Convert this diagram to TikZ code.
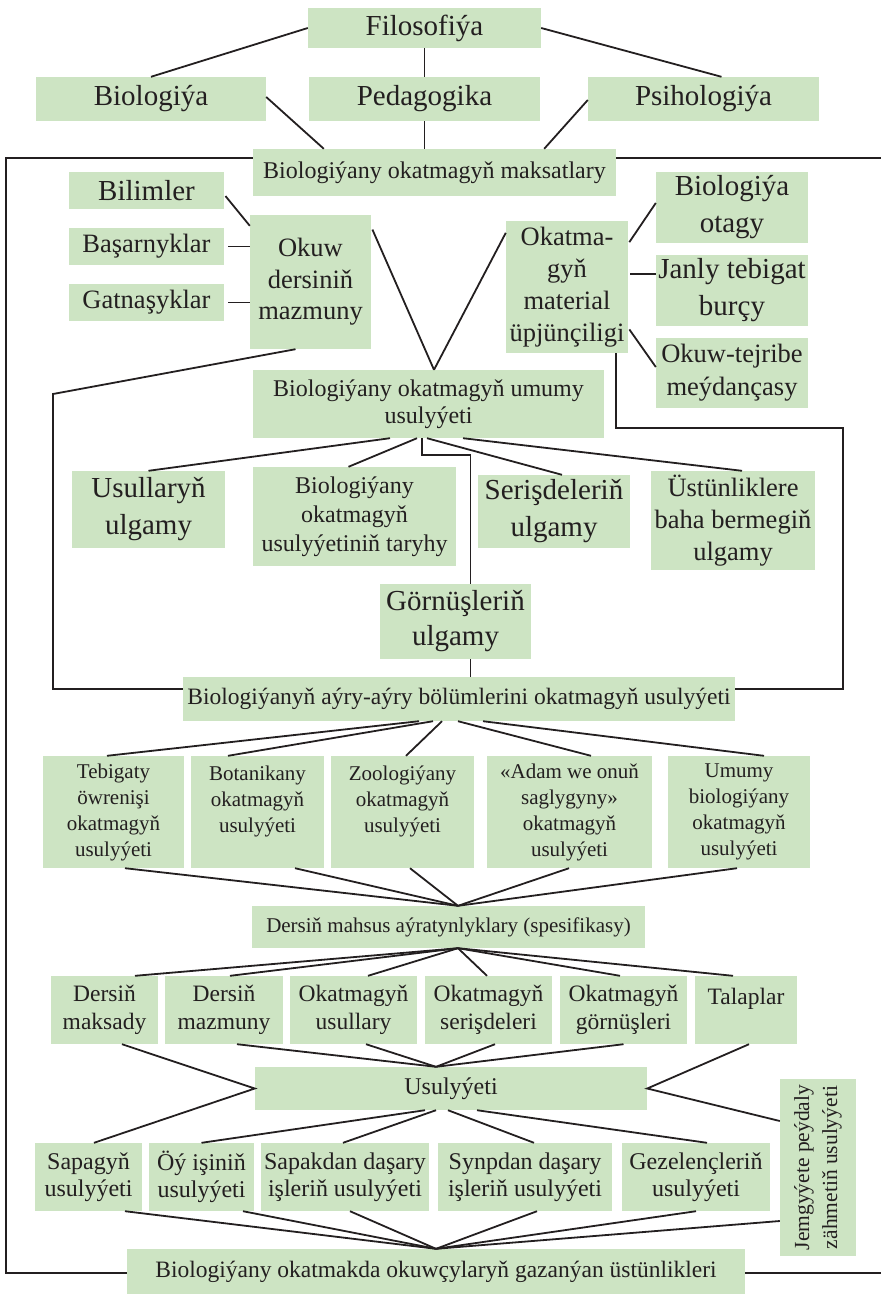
\documentclass[tikz,border=0pt]{standalone}
\usepackage{fontspec}
\setmainfont{Liberation Serif}
\definecolor{boxg}{RGB}{205,228,195}
\definecolor{txt}{RGB}{35,31,32}
\definecolor{ln}{RGB}{35,31,32}
\tikzset{
 bx/.style={fill=boxg, inner sep=0pt, align=center, text=txt},
 cn/.style={draw=ln, line width=1.8pt},
 fr/.style={draw=ln, line width=1.9pt},
 fA/.style={font=\fontsize{29}{37}\selectfont},
 fB/.style={font=\fontsize{26.5}{32}\selectfont},
 fC/.style={font=\fontsize{24}{28}\selectfont},
 fD/.style={font=\fontsize{21}{26}\selectfont},
 fE/.style={font=\fontsize{23.5}{28}\selectfont},
}
\begin{document}
\begin{tikzpicture}[x=1pt,y=-1pt]
\useasboundingbox (0,0) rectangle (881,1295);
% top
\node[bx,fA,minimum width=233,minimum height=40] (filo) at (424.5,28) {Filosofiýa};
\node[bx,fA,minimum width=230,minimum height=44] (bio) at (151,99) {Biologiýa};
\node[bx,fA,minimum width=231,minimum height=44] (ped) at (424.5,99) {Pedagogika};
\node[bx,fA,minimum width=231,minimum height=44] (psi) at (703.5,99) {Psihologiýa};
\node[bx,fC,minimum width=363,minimum height=47] (maks) at (434.5,172.5) {Biologiýany okatmagyň maksatlary};
% second block
\node[bx,fA,minimum width=155,minimum height=37] (bilim) at (146.5,190.5) {Bilimler};
\node[bx,fB,minimum width=155,minimum height=37] (basar) at (146.5,246.5) {Başarnyklar};
\node[bx,fB,minimum width=155,minimum height=37] (gatn) at (146.5,302.5) {Gatnaşyklar};
\node[bx,font=\fontsize{26.5}{31.5}\selectfont,minimum width=121,minimum height=134] (okuw) at (310.5,282) {Okuw\\dersiniň\\mazmuny};
\node[bx,fB,minimum width=122,minimum height=132] (mater) at (567,287) {Okatma-\\gyň\\material\\üpjünçiligi};
\node[bx,fA,minimum width=152,minimum height=71] (otag) at (732,207.5) {Biologiýa\\otagy};
\node[bx,fA,minimum width=152,minimum height=71] (janly) at (732,290.5) {Janly tebigat\\burçy};
\node[bx,font=\fontsize{26.5}{33}\selectfont,minimum width=152,minimum height=70] (tejr) at (732,373) {Okuw-tejribe\\meýdançasy};
\node[bx,font=\fontsize{24}{27}\selectfont,minimum width=351,minimum height=68] (umumy) at (428.5,404) {Biologiýany okatmagyň umumy\\usulyýeti};
% third block
\node[bx,fA,minimum width=153,minimum height=77] (usull) at (148.5,509.5) {Usullaryň\\ulgamy};
\node[bx,font=\fontsize{24}{29}\selectfont,minimum width=203,minimum height=99] (taryh) at (354.5,516.5) {Biologiýany\\okatmagyň\\usulyýetiniň taryhy};
\node[bx,fA,minimum width=152,minimum height=73] (seris) at (554,511.5) {Serişdeleriň\\ulgamy};
\node[bx,fB,minimum width=164,minimum height=99] (ustun) at (733,520.5) {Üstünliklere\\baha bermegiň\\ulgamy};
\node[bx,font=\fontsize{29}{35}\selectfont,minimum width=151,minimum height=75] (gorn) at (455.5,621.5) {Görnüşleriň\\ulgamy};
\node[bx,fE,minimum width=552,minimum height=44] (ayry) at (459,699) {Biologiýanyň aýry-aýry bölümlerini okatmagyň usulyýeti};
% row 4
\node[bx,fD,minimum width=141,minimum height=112] (tebig) at (113.5,812) {Tebigaty\\öwrenişi\\okatmagyň\\usulyýeti};
\node[bx,fD,minimum width=133,minimum height=112] (botan) at (257.5,812) {Botanikany\\okatmagyň\\usulyýeti\\~};
\node[bx,fD,minimum width=143,minimum height=112] (zool) at (402.5,812) {Zoologiýany\\okatmagyň\\usulyýeti\\~};
\node[bx,fD,minimum width=165,minimum height=112] (adam) at (569.5,812) {«Adam we onuň\\saglygyny»\\okatmagyň\\usulyýeti};
\node[bx,fD,minimum width=142,minimum height=112] (umbio) at (739,812) {Umumy\\biologiýany\\okatmagyň\\usulyýeti};
\node[bx,fD,minimum width=393,minimum height=42] (spec) at (448.5,927) {Dersiň mahsus aýratynlyklary (spesifikasy)};
% row 5
\node[bx,fE,minimum width=107,minimum height=68] (maks5) at (104.5,1010) {Dersiň\\maksady};
\node[bx,fE,minimum width=118,minimum height=68] (mazm5) at (224,1010) {Dersiň\\mazmuny};
\node[bx,fE,minimum width=127,minimum height=68] (usul5) at (353.5,1010) {Okatmagyň\\usullary};
\node[bx,fE,minimum width=127,minimum height=68] (seri5) at (488.5,1010) {Okatmagyň\\serişdeleri};
\node[bx,fE,minimum width=127,minimum height=68] (gorn5) at (623.5,1010) {Okatmagyň\\görnüşleri};
\node[bx,fE,minimum width=102,minimum height=68] (tala) at (746,1010) {Talaplar\\~};
\node[bx,fC,minimum width=392,minimum height=43] (usul) at (451,1088.5) {Usulyýeti};
\node[bx,font=\fontsize{21.5}{28}\selectfont,rotate=90,minimum width=177,minimum height=76] (jemg) at (818,1167.5) {Jemgyýete peýdaly\\zähmetiň usulyýeti};
% row 6
\node[bx,font=\fontsize{24}{27}\selectfont,minimum width=107,minimum height=68] (sapag) at (88.5,1177) {Sapagyň\\usulyýeti};
\node[bx,font=\fontsize{24}{27}\selectfont,minimum width=105,minimum height=68] (oyis) at (201.5,1177) {Öý işiniň\\usulyýeti};
\node[bx,font=\fontsize{24}{27}\selectfont,minimum width=168,minimum height=68] (sapak) at (345,1177) {Sapakdan daşary\\işleriň usulyýeti};
\node[bx,font=\fontsize{24}{27}\selectfont,minimum width=174,minimum height=68] (synp) at (525,1177) {Synpdan daşary\\işleriň usulyýeti};
\node[bx,font=\fontsize{24}{27}\selectfont,minimum width=148,minimum height=68] (gezel) at (696,1177) {Gezelençleriň\\usulyýeti};
\node[bx,fE,minimum width=618,minimum height=45] (final) at (436,1271.5) {Biologiýany okatmakda okuwçylaryň gazanýan üstünlikleri};

% ---- connectors ----
\draw[cn] (filo.west) -- (bio.north);
\draw[cn] (filo.south) -- (ped.north);
\draw[cn] (filo.east) -- ([xshift=18pt]psi.north);
\draw[cn] ([yshift=2pt]bio.east) -- ([xshift=71pt]maks.north west);
\draw[cn] (ped.south) -- (ped.south |- maks.north);
\draw[cn] ([yshift=-1pt]psi.west) -- ([xshift=-72pt]maks.north east);
% frame
\coordinate (ftl) at (6,158); \coordinate (fbl) at (6,1273);
\coordinate (ftr) at (881,158); \coordinate (fbr) at (881,1273);
\draw[fr] (maks.west |- ftl) -- (ftl) -- (fbl) -- (final.west |- fbl);
\draw[fr] (maks.east |- ftr) -- (ftr);
\draw[fr] (final.east |- fbr) -- (fbr);
% second block
\draw[cn,shorten <=2pt] ([yshift=-4pt]bilim.east) -- ([yshift=-11pt]okuw.north west);
\draw[cn,shorten <=4pt] (basar.east) -- (basar.east -| okuw.west);
\draw[cn,shorten <=4pt] (gatn.east) -- (gatn.east -| okuw.west);
\coordinate (cu) at ([xshift=5.5pt]umumy.north);
\draw[cn,shorten <=3pt] ([yshift=-12pt]okuw.north east) -- (cu);
\draw[cn] (cu) -- ([yshift=-12pt]mater.north west);
\draw[cn,shorten <=2pt] ([yshift=-23pt]mater.north east) -- ([yshift=4.5pt]otag.west);
\coordinate (mj) at ([yshift=-53pt]mater.north east);
\draw[cn,shorten <=2pt] (mj) -- (mj -| janly.west);
\draw[cn,shorten <=2pt] ([yshift=-107pt]mater.north east) -- ([yshift=6pt]tejr.west);
\coordinate (la) at (53,394); \coordinate (lb) at (53,689);
\draw[cn] ([xshift=-15pt]okuw.south) -- (la) -- (lb) -- (lb -| ayry.west);
\coordinate (ra) at (843,428); \coordinate (rb) at (843,689);
\coordinate (mb) at ([xshift=-12pt]mater.south east);
\draw[cn] (mb) -- (mb |- ra) -- (ra) -- (rb) -- (rb -| ayry.east);
% third block
\draw[cn] ([xshift=-38.5pt]umumy.south) -- (usull.north);
\draw[cn] ([xshift=-11.5pt]umumy.south) -- ([xshift=-6pt]taryh.north);
\coordinate (g0) at ([xshift=-6.5pt]umumy.south);
\coordinate (g1) at ([xshift=15pt]gorn.north);
\draw[cn] (g0) -- ++(0,17) -| (g1);
\draw[cn] ([xshift=-1.5pt]umumy.south) -- ([xshift=8pt]seris.north);
\draw[cn] ([xshift=34.5pt]umumy.south) -- ([xshift=9pt]ustun.north);
\coordinate (g2) at ([xshift=15pt]gorn.south);
\draw[cn] (g2) -- (g2 |- ayry.north);
% row 4
\draw[cn] ([xshift=-40pt]ayry.south) -- ([xshift=-6.5pt]tebig.north);
\draw[cn] ([xshift=-26pt]ayry.south) -- ([xshift=-29.5pt]botan.north);
\draw[cn] ([xshift=-17pt]ayry.south) -- ([xshift=3.5pt]zool.north);
\draw[cn] ([xshift=-1pt]ayry.south) -- ([xshift=21.5pt]adam.north);
\draw[cn] ([xshift=24pt]ayry.south) -- ([xshift=25pt]umbio.north);
\coordinate (cs) at ([xshift=9.5pt]spec.north);
\draw[cn] ([xshift=11.5pt]tebig.south) -- (cs);
\draw[cn] ([xshift=37.5pt]botan.south) -- (cs);
\draw[cn] ([xshift=7.5pt]zool.south) -- (cs);
\draw[cn] ([xshift=-0.5pt]adam.south) -- (cs);
\draw[cn] ([xshift=-2pt]umbio.south) -- (cs);
% row 5
\coordinate (cs2) at ([xshift=9.5pt]spec.south);
\draw[cn] (cs2) -- ([xshift=30.5pt]maks5.north);
\draw[cn] (cs2) -- ([xshift=6pt]mazm5.north);
\draw[cn] (cs2) -- ([xshift=14.5pt]usul5.north);
\draw[cn] (cs2) -- ([xshift=-1.5pt]seri5.north);
\draw[cn] (cs2) -- ([xshift=-3.5pt]gorn5.north);
\draw[cn] (cs2) -- ([xshift=-13pt]tala.north);
\coordinate (cu2) at ([xshift=-15pt]usul.north);
\draw[cn] ([xshift=13pt]mazm5.south) -- (cu2);
\draw[cn] ([xshift=12.5pt]usul5.south) -- (cu2);
\draw[cn] ([xshift=6.5pt]seri5.south) -- (cu2);
\draw[cn] (gorn5.south) -- (cu2);
\draw[cn] ([xshift=17.5pt]maks5.south) -- (usul.west) -- ([xshift=5.5pt]sapag.north);
\draw[cn] ([xshift=3pt]tala.south) -- (usul.east) -- ([yshift=46.5pt]jemg.north);
% row 6
\draw[cn] ([xshift=-26pt]usul.south) -- (oyis.north);
\draw[cn] ([xshift=-15pt]usul.south) -- ([xshift=-2pt]sapak.north);
\draw[cn] ([xshift=-3pt]usul.south) -- ([xshift=9pt]synp.north);
\draw[cn] ([xshift=26pt]usul.south) -- ([xshift=11pt]gezel.north);
\coordinate (cf) at (final.north);
\draw[cn] ([xshift=36.5pt]sapag.south) -- (cf);
\draw[cn] ([xshift=41.5pt]oyis.south) -- (cf);
\draw[cn] ([xshift=5pt]sapak.south) -- (cf);
\draw[cn] ([xshift=12pt]synp.south) -- (cf);
\draw[cn] (gezel.south) -- (cf);
\draw[cn] ([yshift=-53.5pt]jemg.north) -- (cf);
\end{tikzpicture}
\end{document}
